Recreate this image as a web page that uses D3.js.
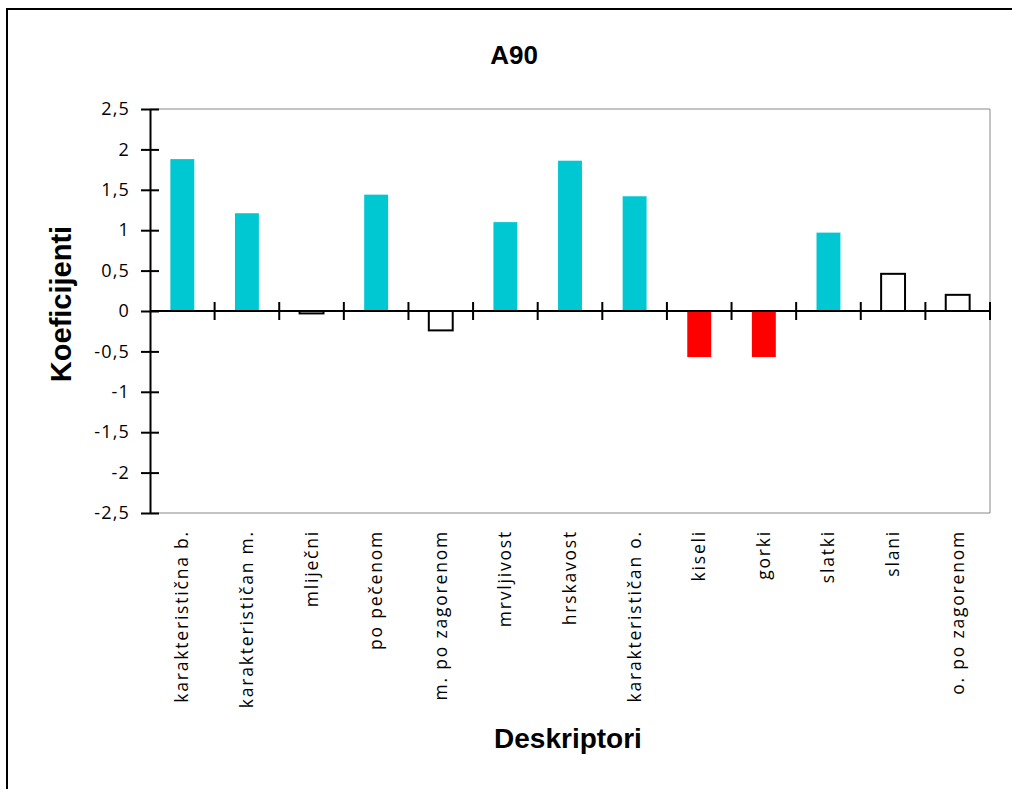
<!DOCTYPE html>
<html>
<head>
<meta charset="utf-8">
<script src="https://cdn.jsdelivr.net/npm/d3@7"></script>
<style>
  html, body { margin: 0; padding: 0; background: #fff; }
  svg { display: block; }
</style>
</head>
<body>
<svg id="chart" width="1012" height="789"></svg>
<script>
const categories = ["karakteristična b.", "karakterističan m.", "mliječni", "po pečenom", "m. po zagorenom", "mrvljivost", "hrskavost", "karakterističan o.", "kiseli", "gorki", "slatki", "slani", "o. po zagorenom"];
const values = [1.88, 1.21, -0.03, 1.44, -0.24, 1.10, 1.86, 1.42, -0.57, -0.57, 0.97, 0.46, 0.20];
// significance group: "pos" = significant positive, "neg" = significant negative, "ns" = not significant
const groups = ["pos", "pos", "ns", "pos", "ns", "pos", "pos", "pos", "neg", "neg", "pos", "ns", "ns"];
const yTicks = [2.5, 2, 1.5, 1, 0.5, 0, -0.5, -1, -1.5, -2, -2.5];
const title = "A90";
const yTitle = "Koeficijenti";
const xTitle = "Deskriptori";

const fills = { pos: "#00C8D2", neg: "#FF0000", ns: "#FFFFFF" };
const strokes = { pos: "none", neg: "none", ns: "#000" };

const svg = d3.select("#chart");
const pLeft = 150, pRight = 990, pTop = 109, pBottom = 513;

// outer border
svg.append("rect").attr("x", 7).attr("y", 9).attr("width", 1100).attr("height", 900)
  .attr("fill", "none").attr("stroke", "#000").attr("stroke-width", 2);

const x = d3.scaleBand().domain(categories).range([pLeft, pRight]).paddingInner(0.63).paddingOuter(0.315);
const xb = d3.scaleBand().domain(categories).range([pLeft, pRight]);
const y = d3.scaleLinear().domain([-2.5, 2.5]).range([pBottom, pTop]);

// plot frame (top, right, bottom gray)
svg.append("path").attr("d", `M${pLeft},${pTop}H${pRight}V${pBottom}H${pLeft}`)
  .attr("fill", "none").attr("stroke", "#888").attr("stroke-width", 1);

// bars
svg.append("g").selectAll("rect").data(categories).join("rect")
  .attr("x", d => x(d))
  .attr("width", x.bandwidth())
  .attr("y", (d, i) => y(Math.max(0, values[i])))
  .attr("height", (d, i) => Math.abs(y(values[i]) - y(0)))
  .attr("fill", (d, i) => fills[groups[i]])
  .attr("stroke", (d, i) => strokes[groups[i]])
  .attr("stroke-width", 2);

// y axis
const yAxis = d3.axisLeft(y).tickValues(yTicks).tickSize(0)
  .tickFormat(d => String(d).replace(".", ","));
const gy = svg.append("g").attr("transform", `translate(${pLeft},0)`).call(yAxis);
gy.select(".domain").attr("stroke", "#000").attr("stroke-width", 2);
gy.selectAll(".tick line").remove();
gy.selectAll(".tick").append("line").attr("x1", -9).attr("x2", 9).attr("stroke", "#000").attr("stroke-width", 2);
gy.selectAll(".tick text").attr("x", -20).attr("font-family", "'Open Sans', 'Noto Sans', sans-serif")
  .attr("font-size", 18).attr("letter-spacing", 1.2).attr("fill", "#000");

// x axis at zero
const zeroY = y(0);
svg.append("line").attr("x1", pLeft).attr("x2", pRight).attr("y1", zeroY).attr("y2", zeroY)
  .attr("stroke", "#000").attr("stroke-width", 2);
const boundaries = categories.slice(1).map(c => xb(c)).concat([pRight]);
svg.append("g").selectAll("line").data(boundaries).join("line")
  .attr("x1", d => d).attr("x2", d => d)
  .attr("y1", zeroY - 9).attr("y2", zeroY + 9)
  .attr("stroke", "#000").attr("stroke-width", 2);

// category labels (rotated)
svg.append("g").selectAll("text").data(categories).join("text")
  .attr("transform", d => `translate(${xb(d) + xb.bandwidth() / 2 + 6},530) rotate(-90)`)
  .attr("text-anchor", "end")
  .attr("font-family", "'Open Sans', 'Noto Sans', sans-serif")
  .attr("font-size", 17.5)
  .attr("letter-spacing", 1.8)
  .attr("fill", "#000")
  .text(d => d);

// title
svg.append("text").attr("x", 514).attr("y", 64).attr("text-anchor", "middle")
  .attr("font-family", "'Liberation Sans', Arial, sans-serif").attr("font-weight", "bold")
  .attr("font-size", 26).text(title);

// y title
svg.append("text").attr("transform", "translate(71,304) rotate(-90)").attr("text-anchor", "middle")
  .attr("font-family", "'Liberation Sans', Arial, sans-serif").attr("font-weight", "bold")
  .attr("font-size", 29).text(yTitle);

// x title
svg.append("text").attr("x", 568).attr("y", 748).attr("text-anchor", "middle")
  .attr("font-family", "'Liberation Sans', Arial, sans-serif").attr("font-weight", "bold")
  .attr("font-size", 28).text(xTitle);
</script>
</body>
</html>
